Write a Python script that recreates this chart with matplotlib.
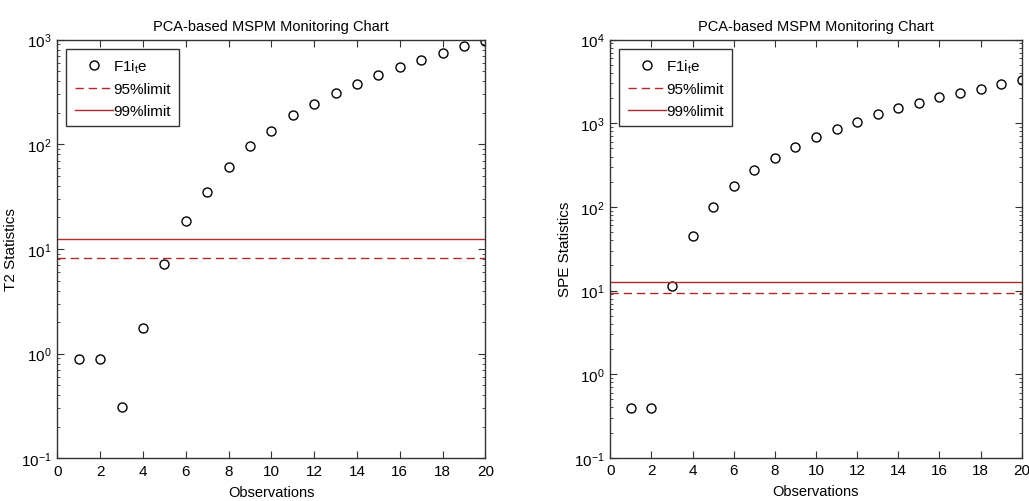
import matplotlib
matplotlib.use('Agg')
import matplotlib.pyplot as plt
from matplotlib.ticker import LogLocator, MultipleLocator, NullFormatter

plt.rcParams['font.family'] = ['Liberation Sans Narrow', 'Liberation Sans', 'DejaVu Sans']
plt.rcParams['mathtext.fontset'] = 'custom'
plt.rcParams['mathtext.rm'] = 'Liberation Sans'
plt.rcParams['mathtext.it'] = 'Liberation Sans'

observations = list(range(1, 21))

t2_values = [0.88, 0.88, 0.31, 1.77, 7.2, 18.5, 35.3, 60.1, 96.1, 135,
             190, 244, 308, 373, 462, 551, 643, 738, 866, 980]
t2_limit95 = 8.26
t2_limit99 = 12.4

spe_values = [0.39, 0.39, 11.4, 44.4, 98.6, 176, 273, 380, 515, 680,
              860, 1042, 1277, 1520, 1730, 2040, 2317, 2566, 2944, 3313]
spe_limit95 = 9.4
spe_limit99 = 12.6

limit_color = '#b02a2a'

fig = plt.figure(figsize=(10.29, 5.02), dpi=100)
ax1 = fig.add_axes([0.0557, 0.085, 0.416, 0.834])
ax2 = fig.add_axes([0.593, 0.086, 0.400, 0.833])


def draw_chart(ax, values, lim95, lim99, ylabel, ylim):
    ax.semilogy(observations, values, 'o', mfc='none', mec='black', mew=1.0,
                ms=6.5, label=r'F1i$_{\rm t}$e')
    ax.axhline(lim95, color=limit_color, ls=(0, (6, 3.5)), lw=1.0, label='95%limit')
    ax.axhline(lim99, color=limit_color, ls='-', lw=1.0, label='99%limit')
    ax.set_xlim(0, 20)
    ax.set_ylim(*ylim)
    ax.xaxis.set_major_locator(MultipleLocator(2))
    ax.yaxis.set_major_locator(LogLocator(base=10, numticks=10))
    ax.yaxis.set_minor_locator(LogLocator(base=10, subs=range(2, 10), numticks=10))
    ax.yaxis.set_minor_formatter(NullFormatter())
    ax.tick_params(which='both', direction='in', top=True, right=True,
                   labelsize=11, color='#333333')
    ax.tick_params(which='major', length=5, pad=4)
    ax.tick_params(which='minor', length=2.5)
    for s in ax.spines.values():
        s.set_color('#333333')
        s.set_linewidth(1.0)
    ax.set_title('PCA-based MSPM Monitoring Chart', fontsize=10.5, pad=7)
    ax.set_xlabel('Observations', fontsize=10.5, labelpad=5)
    ax.set_ylabel(ylabel, fontsize=11)
    ax.yaxis.set_label_coords(-0.093, 0.5)
    leg = ax.legend(loc='upper left', fontsize=11, handlelength=2.5,
                    handletextpad=0.0, borderpad=0.55, labelspacing=0.5,
                    fancybox=False, framealpha=1, edgecolor='#333333',
                    borderaxespad=0.6)
    leg.get_frame().set_linewidth(1.0)


draw_chart(ax1, t2_values, t2_limit95, t2_limit99, 'T2 Statistics', (0.1, 1000))
draw_chart(ax2, spe_values, spe_limit95, spe_limit99, 'SPE Statistics', (0.1, 10000))

fig.savefig('out.png', dpi=100)
